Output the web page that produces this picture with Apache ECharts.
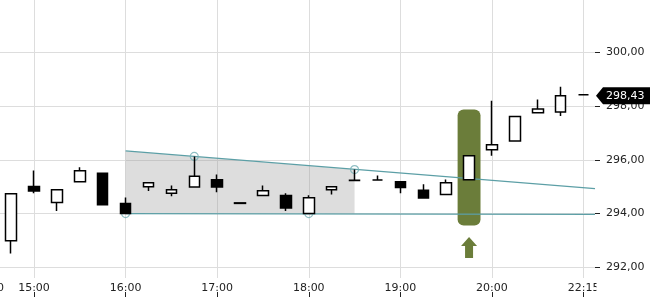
<!DOCTYPE html>
<html><head><meta charset="utf-8">
<script src="https://cdn.jsdelivr.net/npm/echarts@6/dist/echarts.min.js"></script>
<style>html,body{margin:0;padding:0;background:#fff}#c{width:650px;height:300px}</style>
</head><body><div id="c"></div><script>
// ---- data ----
const times = ['14:30','14:45','15:00','15:15','15:30','15:45','16:00','16:15','16:30','16:45','17:00','17:15','17:30','17:45','18:00','18:15','18:30','18:45','19:00','19:15','19:30','19:45','20:00','20:15','20:30','20:45','22:15'];
const labelTimes = ['14:30','15:00','16:00','17:00','18:00','19:00','20:00','22:15'];
const opens  = [null,292.99,295.01,294.41,295.19,295.50,294.38,295.00,294.76,294.99,295.26,294.40,294.67,294.67,294.00,294.89,295.24,295.25,295.19,294.87,294.71,295.26,296.38,296.71,297.76,297.79,298.43];
const closes = [null,294.74,294.84,294.89,295.60,294.33,294.00,295.15,294.89,295.39,294.99,294.38,294.85,294.21,294.59,295.00,295.23,295.25,294.97,294.58,295.15,296.16,296.57,297.62,297.90,298.39,298.43];
const lows   = [null,292.51,294.76,294.10,295.19,294.33,294.00,294.84,294.65,294.99,294.80,294.38,294.67,294.10,294.00,294.71,295.23,295.25,294.76,294.58,294.71,295.26,296.16,296.71,297.76,297.64,298.43];
const highs  = [null,294.74,295.61,294.89,295.73,295.50,294.60,295.15,295.05,296.13,295.46,294.40,295.05,294.76,294.68,295.00,295.64,295.42,295.19,295.09,295.27,296.16,298.21,297.62,298.25,298.73,298.43];
const yTicks = [292, 294, 296, 298, 300];
const lastPrice = 298.43;
// trend lines (slot index, price)
const upperTrend = [[6, 296.335], [26.5, 294.93]];
const lowerTrend = [[6, 294.00], [26.5, 293.97]];
const touchPoints = [[6, 294.00], [9, 296.13], [14, 294.00], [16, 295.64]];
const zonePoly = [[6, 296.335], [16, 295.64], [16, 294.00], [6, 294.00]];
const signalBox = [[21, 297.88, 293.56]];   // slot, top, bottom
const signalArrow = [[21, 293.13]];         // slot, tip price
const yMin = 291.6, yMax = 301.96;

const fmt = v => v.toFixed(2).replace('.', ',');
const FONT = 'DejaVu Sans';
const TEAL = '#5c9fa6';

const candleData = times.map((t, i) => opens[i] == null ? ['-','-','-','-'] : [opens[i], closes[i], lows[i], highs[i]]);
const showLabel = (idx, val) => labelTimes.indexOf(val) >= 0;
const isYTick = v => yTicks.some(t => Math.abs(t - v) < 1e-6);

const chart = echarts.init(document.getElementById('c'), null, {renderer: 'canvas'});
chart.setOption({
  animation: false,
  backgroundColor: '#fff',
  grid: {left: -23.25, right: 55, top: 0, bottom: 22, containLabel: false, outerBoundsMode: 'none'},
  xAxis: [{
    type: 'category', data: times, boundaryGap: true, offset: 19,
    axisLine: {show: true, onZero: false, lineStyle: {color: 'rgba(0,0,0,0)'}},
    axisTick: {show: true, inside: true, length: 5, alignWithLabel: true, interval: showLabel, lineStyle: {color: '#222', width: 1}},
    axisLabel: {show: true, inside: true, margin: 3, interval: showLabel, color: '#222', fontFamily: FONT, fontSize: 11},
    splitLine: {show: true, interval: showLabel, alignWithLabel: true, lineStyle: {color: '#dddddd', width: 1}}
  }, {
    type: 'value', min: -0.5, max: 26.5, show: false, axisLine: {onZero: false}
  }],
  yAxis: [{
    type: 'value', position: 'right', min: yMin, max: yMax, splitNumber: 5,
    axisLine: {show: true, onZero: false, lineStyle: {color: 'rgba(0,0,0,0)'}},
    axisTick: {show: true, length: 5, lineStyle: {color: '#222', width: 1}},
    axisLabel: {show: true, margin: 11, showMinLabel: false, showMaxLabel: false,
      color: '#222', fontFamily: FONT, fontSize: 11, formatter: v => isYTick(v) ? fmt(v) : ''},
    splitLine: {show: true, showMinLine: false, showMaxLine: false, lineStyle: {color: '#dddddd', width: 1}}
  }],
  series: [
    {
      type: 'custom', name: 'zone', xAxisIndex: 1, yAxisIndex: 0, z: 1, silent: true,
      data: [zonePoly[0]],
      renderItem: (params, api) => ({
        type: 'polygon',
        shape: {points: zonePoly.map(p => api.coord(p))},
        style: {fill: 'rgba(150,150,150,0.32)'}
      })
    },
    {
      type: 'custom', name: 'signal', xAxisIndex: 1, yAxisIndex: 0, z: 1, silent: true,
      data: signalBox,
      renderItem: (params, api) => {
        const a = api.coord([api.value(0) - 0.5, api.value(1)]);
        const b = api.coord([api.value(0) + 0.5, api.value(2)]);
        return {type: 'rect', shape: {x: a[0], y: a[1], width: b[0] - a[0], height: b[1] - a[1], r: 6},
          style: {fill: '#6b7d3a'}};
      }
    },
    {
      type: 'line', name: 'upper', xAxisIndex: 1, yAxisIndex: 0, z: 2, data: upperTrend,
      symbol: 'none', silent: true, lineStyle: {color: TEAL, width: 1.2}
    },
    {
      type: 'line', name: 'lower', xAxisIndex: 1, yAxisIndex: 0, z: 2, data: lowerTrend,
      symbol: 'none', silent: true, lineStyle: {color: TEAL, width: 1.2}
    },
    {
      type: 'scatter', name: 'touch', xAxisIndex: 1, yAxisIndex: 0, z: 3, data: touchPoints,
      symbol: 'circle', symbolSize: 8, silent: true,
      itemStyle: {color: 'rgba(0,0,0,0)', borderColor: '#74afb5', borderWidth: 1.2}
    },
    {
      type: 'candlestick', name: 'price', xAxisIndex: 0, yAxisIndex: 0, z: 4, data: candleData,
      barWidth: 11,
      itemStyle: {color: '#ffffff', color0: '#000000', borderColor: '#000000', borderColor0: '#000000',
        borderColorDoji: '#000000', borderWidth: 1.5}
    },
    {
      type: 'custom', name: 'arrow', xAxisIndex: 1, yAxisIndex: 0, z: 5, silent: true,
      data: signalArrow,
      renderItem: (params, api) => {
        const p = api.coord([api.value(0), api.value(1)]);
        const o = [[0,0],[8,9],[4,9],[4,21],[-4,21],[-4,9],[-8,9]];
        return {type: 'polygon', shape: {points: o.map(d => [p[0] + d[0], p[1] + d[1]])}, style: {fill: '#6b7d3a'}};
      }
    },
    {
      type: 'custom', name: 'tag', xAxisIndex: 1, yAxisIndex: 0, z: 10, silent: true, clip: false,
      data: [[26, lastPrice]],
      renderItem: (params, api) => {
        const p = api.coord([api.value(0), api.value(1)]);
        const xr = params.coordSys.x + params.coordSys.width;
        const y = p[1] + 1, h = 8.5;
        return {type: 'group', children: [
          {type: 'polygon', shape: {points: [[xr + 1, y], [xr + 8, y - h], [660, y - h], [660, y + h], [xr + 8, y + h]]},
            style: {fill: '#000'}},
          {type: 'text', style: {text: fmt(api.value(1)), x: xr + 11, y: y, align: 'left', verticalAlign: 'middle',
            fill: '#fff', font: '11px "DejaVu Sans"'}}
        ]};
      }
    }
  ],
  graphic: [{
    type: 'rect', right: 0, bottom: 0, z: 100, silent: true,
    shape: {width: 53.5, height: 21}, style: {fill: '#fff'}
  }]
});
</script></body></html>
